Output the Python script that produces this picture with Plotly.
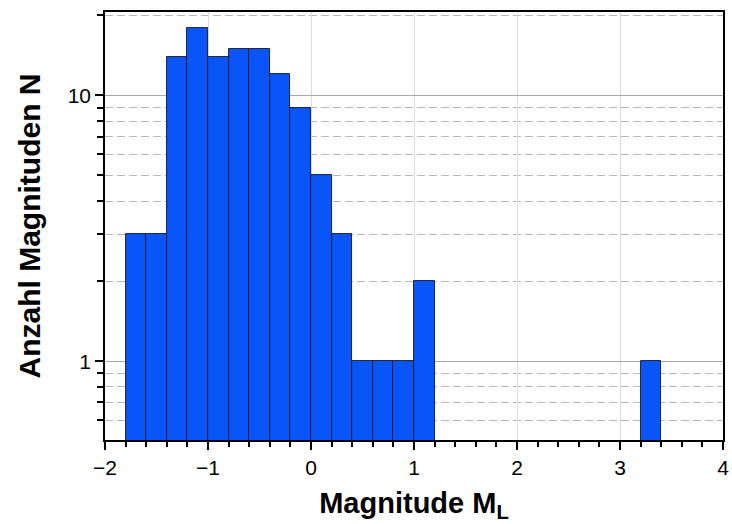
import plotly.graph_objects as go
import math

bin_left = [-1.8, -1.6, -1.4, -1.2, -1.0, -0.8, -0.6, -0.4, -0.2, 0.0, 0.2, 0.4, 0.6, 0.8, 1.0, 3.2]
counts = [3, 3, 14, 18, 14, 15, 15, 12, 9, 5, 3, 1, 1, 1, 2, 1]
bin_width = 0.2
x_ticks = [-2, -1, 0, 1, 2, 3, 4]
y_major = [1, 10]
y_minor = [0.6, 0.7, 0.8, 0.9, 2, 3, 4, 5, 6, 7, 8, 9, 20]

centers = [b + bin_width / 2 for b in bin_left]

fig = go.Figure()
fig.add_trace(go.Bar(
    x=centers, y=counts, width=[bin_width] * len(centers),
    marker=dict(color="#0a55f7", line=dict(color="#151525", width=0.9)),
))

font_family = "Liberation Sans, Arial, Helvetica, sans-serif"
fig.update_layout(
    width=732, height=524,
    margin=dict(l=105, r=9, t=12, b=84),
    paper_bgcolor="white", plot_bgcolor="white",
    showlegend=False, bargap=0,
    font=dict(family=font_family, color="black", size=21),
)
fig.update_xaxes(
    automargin=False,
    range=[-2, 4], tickvals=x_ticks, ticks="outside", ticklen=8, tickwidth=1.5,
    tickcolor="black", showline=True, linecolor="black", linewidth=1.5, mirror=True,
    showgrid=True, gridcolor="#dcdcdc", gridwidth=1.2, zeroline=False,
    tickfont=dict(size=21),
    minor=dict(dtick=0.2, tick0=0, ticks="outside", ticklen=5, tickcolor="black", showgrid=False),
    title=dict(text="<b>Magnitude M<sub>L</sub></b>", font=dict(size=29), standoff=15),
)
fig.update_yaxes(
    automargin=False,
    type="log", range=[math.log10(0.505), math.log10(20.6)],
    tickvals=y_major, ticktext=["1", "10"], ticks="outside", ticklen=8, tickwidth=1.5,
    tickcolor="black", showline=True, linecolor="black", linewidth=1.5, mirror=True,
    showgrid=True, gridcolor="#a8a8a8", gridwidth=1.3, zeroline=False,
    tickfont=dict(size=21),
    minor=dict(tickmode="array", tickvals=y_minor, ticks="outside", ticklen=6, tickcolor="black",
               showgrid=True, gridcolor="#b8b8b8", griddash="8px,4px", gridwidth=1.3),
    title=dict(text="<b>Anzahl Magnituden N</b>", font=dict(size=30), standoff=18),
)

fig.write_html("out.html", config={"displayModeBar": False},
               post_script="document.body.style.margin='0';document.body.style.overflow='hidden';")
